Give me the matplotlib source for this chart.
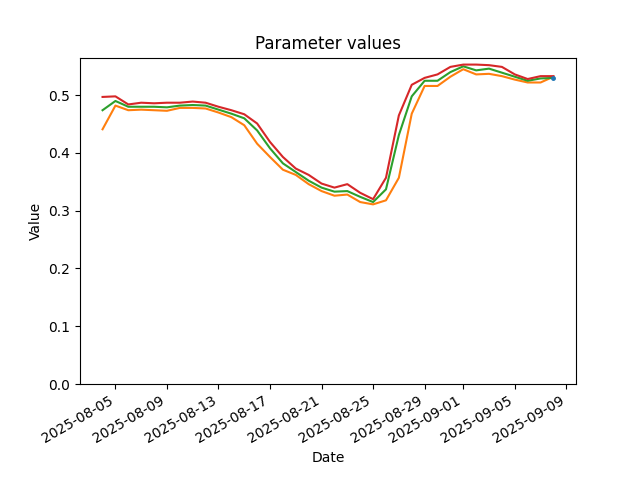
import matplotlib
matplotlib.use("Agg")
import matplotlib.pyplot as plt
import pandas as pd

# daily dates, 2025-08-04 .. 2025-09-08
dates = pd.date_range("2025-08-04", "2025-09-08", freq="D")

# blue series only has the last day
blue_dates = [pd.Timestamp("2025-09-08")]
blue_vals = [0.529]

orange_vals = [0.441, 0.482, 0.474, 0.475, 0.474, 0.473, 0.478, 0.478, 0.477,
               0.470, 0.462, 0.448, 0.416, 0.393, 0.371, 0.362, 0.346, 0.334,
               0.326, 0.328, 0.315, 0.311, 0.318, 0.357, 0.468, 0.516, 0.516,
               0.532, 0.545, 0.536, 0.537, 0.533, 0.527, 0.522, 0.522, 0.532]

green_vals = [0.474, 0.490, 0.480, 0.480, 0.480, 0.479, 0.482, 0.483, 0.482,
              0.475, 0.468, 0.460, 0.439, 0.408, 0.382, 0.367, 0.352, 0.340,
              0.333, 0.334, 0.324, 0.315, 0.337, 0.431, 0.498, 0.525, 0.525,
              0.540, 0.550, 0.543, 0.546, 0.539, 0.532, 0.525, 0.529, 0.530]

red_vals = [0.497, 0.498, 0.484, 0.487, 0.486, 0.487, 0.487, 0.489, 0.487,
            0.480, 0.474, 0.467, 0.451, 0.419, 0.393, 0.373, 0.362, 0.347,
            0.340, 0.346, 0.331, 0.320, 0.357, 0.465, 0.518, 0.530, 0.536,
            0.549, 0.553, 0.553, 0.552, 0.549, 0.536, 0.528, 0.533, 0.533]

fig, ax = plt.subplots(figsize=(6.4, 4.8), dpi=100)
ax.plot(dates, orange_vals, color="C1")
ax.plot(dates, green_vals, color="C2")
ax.plot(dates, red_vals, color="C3")
# single point, drawn on top so it shows like in the original
ax.plot(blue_dates, blue_vals, color="C0", marker="o", markersize=2.5, zorder=3)

ax.set_ylim(bottom=0)
ax.set_title("Parameter values")
ax.set_xlabel("Date")
ax.set_ylabel("Value")
fig.autofmt_xdate()

fig.savefig("out.png", dpi=100)
